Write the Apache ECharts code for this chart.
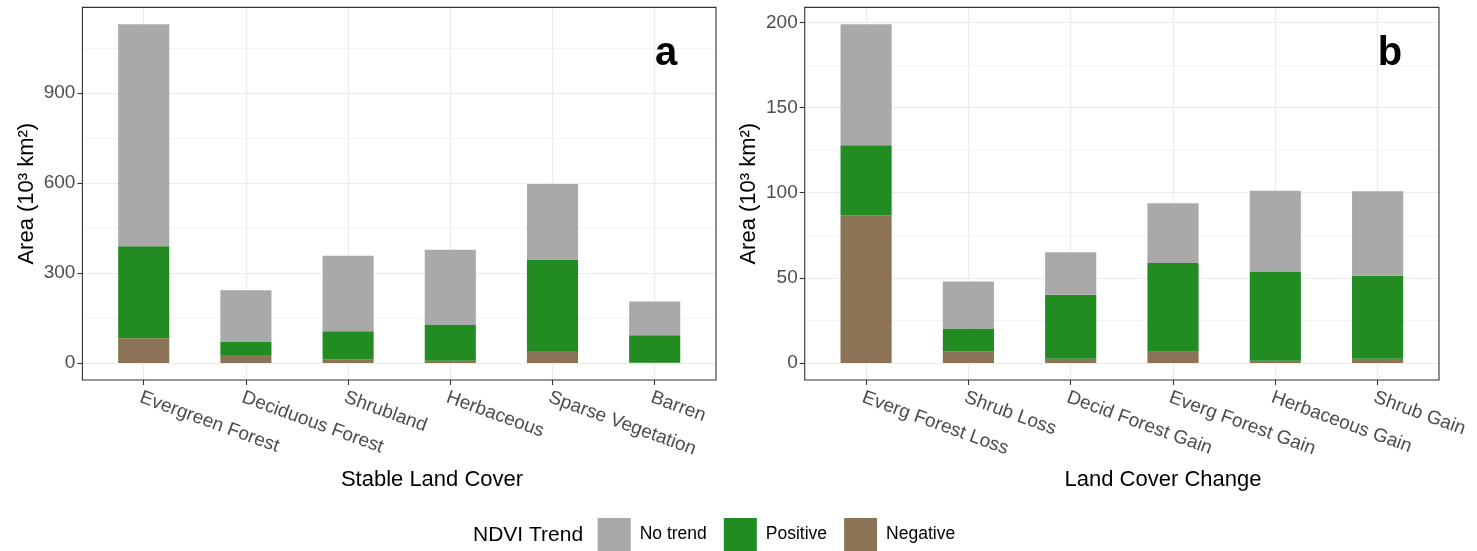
<!DOCTYPE html>
<html><head><meta charset="utf-8">
<script src="https://cdn.jsdelivr.net/npm/echarts@6/dist/echarts.min.js"></script>
<style>html,body{margin:0;padding:0;background:#fff}#chart{width:1477px;height:551px}</style>
</head><body><div id="chart"></div>
<script>
// ---- data (10^3 km^2), stacked segments ----
const catsA = ['Evergreen Forest', 'Deciduous Forest', 'Shrubland', 'Herbaceous', 'Sparse Vegetation', 'Barren'];
const negativeA = [83, 27, 13, 8, 40, 1];
const positiveA = [306, 45, 93, 119, 305, 92];
const noTrendA  = [740, 171, 252, 251, 252, 112];
const tickStepA = 300;   // ticks 0, 300, 600, 900

const catsB = ['Everg Forest Loss', 'Shrub Loss', 'Decid Forest Gain', 'Everg Forest Gain', 'Herbaceous Gain', 'Shrub Gain'];
const negativeB = [86.8, 7.0, 2.5, 6.6, 1.3, 2.5];
const positiveB = [41.1, 13.3, 37.6, 52.1, 52.2, 48.7];
const noTrendB  = [70.9, 27.6, 25.0, 35.1, 47.7, 49.7];
const tickStepB = 50;    // ticks 0, 50, 100, 150, 200

const legendNames = ['No trend', 'Positive', 'Negative'];
const colors = {'No trend': '#A9A9A9', 'Positive': '#228B22', 'Negative': '#8B7355'};

// ---- layout ----
const FONT = 'Liberation Sans, Arial, Helvetica, sans-serif';
const panels = [
  {x0: 82.4, x1: 716, y0: 7.4, y1: 380, cats: catsA, neg: negativeA, pos: positiveA, none: noTrendA,
   step: tickStepA, xTitle: 'Stable Land Cover', xTitleX: 432, letter: 'a', letterX: 666},
  {x0: 804.7, x1: 1439, y0: 7.4, y1: 380, cats: catsB, neg: negativeB, pos: positiveB, none: noTrendB,
   step: tickStepB, xTitle: 'Land Cover Change', xTitleX: 1163, letter: 'b', letterX: 1390}
];

const grid = [], xAxis = [], yAxis = [], series = [], graphic = [];

panels.forEach((p, i) => {
  const totals = p.cats.map((_, j) => p.neg[j] + p.pos[j] + p.none[j]);
  const M = Math.max(...totals);
  const ymin = -0.05 * M, ymax = 1.05 * M;
  const k = (p.y1 - p.y0) / (ymax - ymin);
  const zeroY = p.y0 + ymax * k;
  const n = p.cats.length;
  const stepPx = (p.x1 - p.x0) / (n - 1 + 1.2);
  const first = p.x0 + 0.6 * stepPx, last = p.x1 - 0.6 * stepPx;
  const majorMax = Math.floor(ymax / p.step) * p.step;
  const minorMin = p.step / 2;
  const minorMax = Math.floor((ymax - minorMin) / p.step) * p.step + minorMin;
  const g = grid.length;

  // grid 0: bars
  grid.push({left: first, width: last - first, top: p.y0, height: p.y1 - p.y0});
  xAxis.push({type: 'category', gridIndex: g, data: p.cats, boundaryGap: false,
    axisLine: {show: false, onZero: false},
    axisTick: {show: true, length: 5, lineStyle: {color: '#333333', width: 1.1}},
    axisLabel: {interval: 0, rotate: -20, margin: 8, verticalAlign: 'top', color: '#4D4D4D', fontSize: 19, fontFamily: FONT},
    splitLine: {show: true, lineStyle: {color: '#EBEBEB', width: 1.1}}});
  yAxis.push({type: 'value', gridIndex: g, min: ymin, max: ymax,
    axisLine: {show: false, onZero: false}, axisTick: {show: false}, axisLabel: {show: false}, splitLine: {show: false},
    name: 'Area (10³ km²)', nameLocation: 'middle', nameRotate: 90, nameGap: first - p.x0 + 44.5,
    nameTextStyle: {fontSize: 22, color: '#000', fontFamily: FONT}});

  // grid 1: major lines, labels, ticks
  grid.push({left: p.x0, width: p.x1 - p.x0, top: zeroY - majorMax * k, height: majorMax * k});
  xAxis.push({type: 'value', gridIndex: g + 1, show: false, min: 0, max: 1});
  yAxis.push({type: 'value', gridIndex: g + 1, min: 0, max: majorMax, interval: p.step,
    axisLine: {show: false, onZero: false},
    axisTick: {show: true, length: 5, lineStyle: {color: '#333333', width: 1.1}},
    axisLabel: {margin: 7, color: '#4D4D4D', fontSize: 19, fontFamily: FONT},
    splitLine: {show: true, lineStyle: {color: '#EBEBEB', width: 1.1}}});

  // grid 2: minor lines
  grid.push({left: p.x0, width: p.x1 - p.x0, top: zeroY - minorMax * k, height: (minorMax - minorMin) * k});
  xAxis.push({type: 'value', gridIndex: g + 2, show: false, min: 0, max: 1});
  yAxis.push({type: 'value', gridIndex: g + 2, min: minorMin, max: minorMax, interval: p.step,
    axisLine: {show: false, onZero: false}, axisTick: {show: false}, axisLabel: {show: false},
    splitLine: {show: true, lineStyle: {color: '#EBEBEB', width: 0.6}}});

  const segs = [['Negative', p.neg], ['Positive', p.pos], ['No trend', p.none]];
  segs.forEach(([name, vals]) => {
    series.push({type: 'bar', name, data: vals, stack: 'p' + i, xAxisIndex: g, yAxisIndex: g,
      barWidth: '50%', clip: false, itemStyle: {color: colors[name]}, emphasis: {disabled: true}});
  });

  graphic.push({type: 'rect', silent: true, z: 10,
    shape: {x: p.x0, y: p.y0, width: p.x1 - p.x0, height: p.y1 - p.y0},
    style: {fill: 'none', stroke: '#333333', lineWidth: 1.1}});
  graphic.push({type: 'text', silent: true, z: 10, x: p.letterX, y: 54,
    style: {text: p.letter, font: 'bold 40px ' + FONT, fill: '#000', align: 'center', verticalAlign: 'middle'}});
  graphic.push({type: 'text', silent: true, z: 10, x: p.xTitleX, y: 480,
    style: {text: p.xTitle, font: '22px ' + FONT, fill: '#000', align: 'center', verticalAlign: 'middle'}});
});

graphic.push({type: 'text', silent: true, z: 10, x: 473, y: 535,
  style: {text: 'NDVI Trend', font: '21px ' + FONT, fill: '#000', align: 'left', verticalAlign: 'middle'}});

const chart = echarts.init(document.getElementById('chart'), null, {renderer: 'canvas'});
chart.setOption({
  animation: false,
  backgroundColor: '#fff',
  grid, xAxis, yAxis, series, graphic,
  legend: {data: legendNames, left: 597.7, top: 518, padding: 0, itemWidth: 33, itemHeight: 33, itemGap: 17,
    icon: 'rect', selectedMode: false,
    textStyle: {fontSize: 17.5, color: '#000', fontFamily: FONT, padding: [0, 0, 0, 4]}}
});
</script></body></html>
